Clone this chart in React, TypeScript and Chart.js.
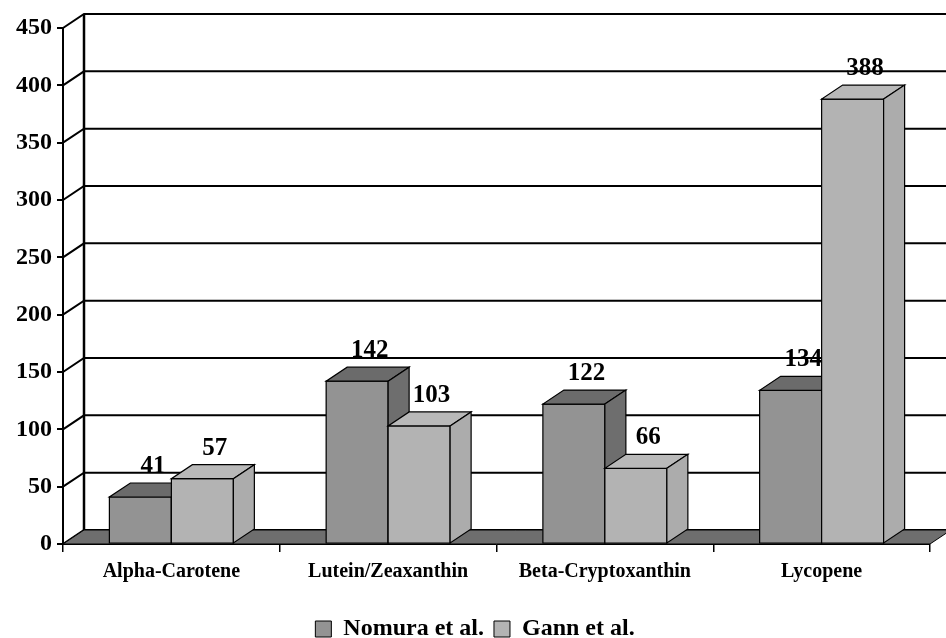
import React, { useEffect, useRef } from 'react';
import { Chart, registerables } from 'chart.js';

Chart.register(...registerables);

const categories = ['Alpha-Carotene', 'Lutein/Zeaxanthin', 'Beta-Cryptoxanthin', 'Lycopene'];
const seriesNames = ['Nomura et al.', 'Gann et al.'];
const nomuraValues = [41, 142, 122, 134];
const gannValues = [57, 103, 66, 388];
const yMin = 0;
const yMax = 450;
const yStep = 50;

const DX = 21;
const DY = 14;
const FONT = '"Liberation Serif", "Times New Roman", serif';

const faceColors = [
  { front: '#939393', top: '#6b6b6b', side: '#6e6e6e' },
  { front: '#b3b3b3', top: '#b9b9b9', side: '#acacac' },
];

function poly(ctx: CanvasRenderingContext2D, pts: number[][], fill: string, lw = 1) {
  ctx.beginPath();
  ctx.moveTo(pts[0][0], pts[0][1]);
  for (let i = 1; i < pts.length; i++) ctx.lineTo(pts[i][0], pts[i][1]);
  ctx.closePath();
  ctx.fillStyle = fill;
  ctx.fill();
  ctx.lineWidth = lw;
  ctx.strokeStyle = '#000';
  ctx.stroke();
}

const threeDPlugin = {
  id: 'threeD',
  afterLayout(chart: any) {
    const lg = chart.legend;
    if (lg) {
      lg.left += 10;
      lg.right += 10;
      lg.top += 13;
      lg.bottom += 13;
    }
  },
  beforeDatasetsDraw(chart: any) {
    const ctx: CanvasRenderingContext2D = chart.ctx;
    const { left, right, bottom } = chart.chartArea;
    const ys = chart.scales.y;
    ctx.save();
    ctx.strokeStyle = '#000';
    ys.ticks.forEach((t: any) => {
      const yy = ys.getPixelForValue(t.value);
      ctx.beginPath();
      ctx.lineWidth = 2;
      ctx.moveTo(left, yy);
      ctx.lineTo(left + DX, yy - DY);
      ctx.lineTo(chart.width, yy - DY);
      ctx.stroke();
    });
    ctx.beginPath();
    ctx.lineWidth = 2.5;
    ctx.moveTo(left + DX, ys.getPixelForValue(yMax) - DY);
    ctx.lineTo(left + DX, ys.getPixelForValue(yMin) - DY);
    ctx.stroke();
    poly(ctx, [[left, bottom], [right, bottom], [right + DX, bottom - DY], [left + DX, bottom - DY]], '#6e6e6e', 1);
    ctx.restore();
  },
  afterDatasetsDraw(chart: any) {
    const ctx: CanvasRenderingContext2D = chart.ctx;
    const metas = chart.data.datasets.map((_: any, i: number) => chart.getDatasetMeta(i));
    ctx.save();
    for (let c = 0; c < categories.length; c++) {
      metas.forEach((meta: any, d: number) => {
        const el = meta.data[c];
        const { x, y, base, width } = el.getProps(['x', 'y', 'base', 'width'], true);
        const x0 = x - width / 2;
        const x1 = x + width / 2;
        const col = faceColors[d];
        poly(ctx, [[x0, y], [x1, y], [x1, base], [x0, base]], col.front, 1.2);
        poly(ctx, [[x0, y], [x1, y], [x1 + DX, y - DY], [x0 + DX, y - DY]], col.top, 1.2);
        poly(ctx, [[x1, y], [x1 + DX, y - DY], [x1 + DX, base - DY], [x1, base]], col.side, 1.2);
      });
    }
    ctx.fillStyle = '#000';
    ctx.font = `bold 25px ${FONT}`;
    ctx.textAlign = 'center';
    ctx.textBaseline = 'alphabetic';
    metas.forEach((meta: any, d: number) => {
      const vals = chart.data.datasets[d].data;
      meta.data.forEach((el: any, i: number) => {
        const { x, y } = el.getProps(['x', 'y'], true);
        ctx.fillText(String(vals[i]), x + DX / 2 + 2, y - DY - 10);
      });
    });
    ctx.restore();
  },
};

export default function App() {
  const ref = useRef<HTMLCanvasElement>(null);
  useEffect(() => {
    document.body.style.margin = '0';
    const canvas = ref.current!;
    const chart = new Chart(canvas, {
      type: 'bar',
      data: {
        labels: categories,
        datasets: [
          {
            label: seriesNames[0],
            data: nomuraValues,
            backgroundColor: faceColors[0].front,
            borderColor: '#000',
            borderWidth: 1,
            categoryPercentage: 0.572,
            barPercentage: 1,
          },
          {
            label: seriesNames[1],
            data: gannValues,
            backgroundColor: faceColors[1].front,
            borderColor: '#000',
            borderWidth: 1,
            categoryPercentage: 0.572,
            barPercentage: 1,
          },
        ],
      },
      options: {
        responsive: false,
        animation: false,
        layout: { padding: { top: 28, right: 16, left: 0, bottom: 0 } },
        plugins: {
          legend: {
            position: 'bottom',
            labels: {
              font: { family: FONT, size: 24, weight: 'bold' },
              color: '#000',
              boxWidth: 16,
              boxHeight: 16,
              padding: 10,
            },
          },
          tooltip: { enabled: false },
        },
        scales: {
          x: {
            grid: { offset: true, drawOnChartArea: false, tickLength: 8, color: '#000', lineWidth: 1.5 },
            border: { display: true, color: '#000', width: 1 },
            ticks: { font: { family: FONT, size: 20, weight: 'bold' }, color: '#000', padding: 8, maxRotation: 0 },
            afterFit: (s: any) => { s.height = 50; },
          },
          y: {
            min: yMin,
            max: yMax,
            ticks: { stepSize: yStep, font: { family: FONT, size: 24, weight: 'bold' }, color: '#000', padding: 5 },
            grid: { drawOnChartArea: false, tickLength: 6, color: '#000', lineWidth: 2 },
            border: { display: true, color: '#000', width: 2 },
            afterFit: (s: any) => { s.width = 63; },
          },
        },
      } as any,
      plugins: [threeDPlugin],
    });
    return () => chart.destroy();
  }, []);
  return <canvas ref={ref} width={946} height={638} style={{ display: 'block' }} />;
}
